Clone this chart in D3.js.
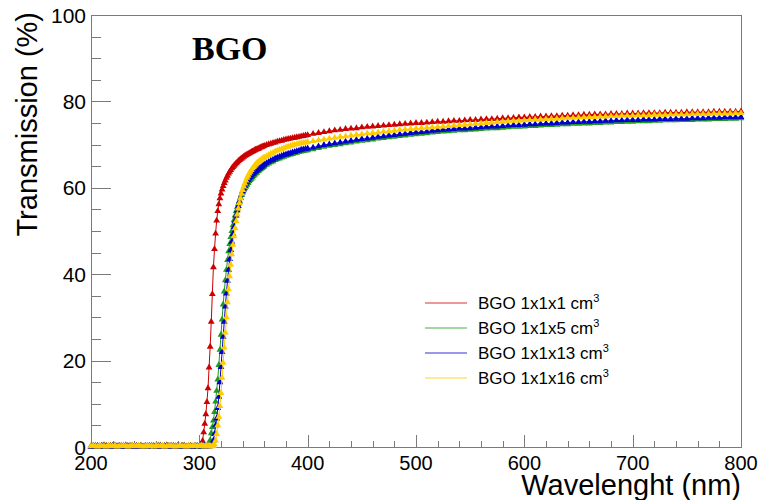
<!DOCTYPE html>
<html>
<head>
<meta charset="utf-8">
<script src="https://cdn.jsdelivr.net/npm/d3@7"></script>
<style>
  html, body { margin: 0; padding: 0; background: #fff; }
  svg { display: block; }
  svg text { font-family: "Liberation Sans", Arial, Helvetica, sans-serif; }
</style>
</head>
<body>
<svg id="chart" width="763" height="500"></svg>
<script>
// Wavelength sampling grid (nm): 2 nm below the edge, 1 nm through the absorption edge, coarser on the plateau
const wavelengths = [].concat(
  d3.range(200, 301, 2),
  d3.range(301, 361, 1),
  d3.range(362, 401, 2),
  d3.range(405, 801, 5)
);

const seriesNames = ["BGO 1x1x1", "BGO 1x1x5", "BGO 1x1x13", "BGO 1x1x16"];
const seriesColors = ["#cc0000", "#1f9a1f", "#0000cc", "#ffcc00"];

// Transmission (%) for each crystal length
const trans1x1x1 = [
  0.1,0.2,0.1,0.3,0.1,0.2,0.4,0.1,0.2,0.3,
  0.1,0.2,0.1,0.3,0.2,0.1,0.4,0.2,0.1,0.3,
  0.2,0.1,0.2,0.3,0.1,0.2,0.1,0.3,0.2,0.2,
  0.1,0.3,0.2,0.1,0.2,0.4,0.1,0.2,0.3,0.1,
  0.2,0.1,0.3,0.2,0.1,0.2,0.3,0.1,0.2,0.1,
  0.2,
  0.3,0.6,1.4,3.4,5.4,7.6,10.4,13.6,18.4,23.2,
  29.0,35.4,41.6,45.8,49.4,52.4,54.6,56.2,57.6,58.7,
  59.6,60.4,61.1,61.7,62.3,62.8,63.3,63.7,64.1,64.5,
  64.8,65.1,65.4,65.7,65.9,66.2,66.4,66.6,66.8,67.0,
  67.2,67.4,67.5,67.7,67.8,68.0,68.1,68.3,68.4,68.5,
  68.7,68.8,68.9,69.0,69.1,69.3,69.4,69.5,69.6,69.7,
  69.9,70.1,70.2,70.4,70.5,70.7,70.8,70.9,71.1,71.2,71.3,71.4,71.5,71.6,71.7,71.8,71.9,72.0,72.1,72.2,
  72.5,72.7,72.9,73.1,73.3,73.4,73.6,73.7,73.8,74.0,74.1,74.2,74.3,74.4,74.5,74.6,74.7,74.8,74.9,75.0,75.0,75.1,75.2,75.3,75.3,75.4,
  75.5,75.5,75.6,75.7,75.7,75.8,75.9,75.9,76.0,76.1,76.1,76.2,76.3,76.3,76.4,76.4,76.5,76.5,76.6,76.6,76.7,76.7,76.8,76.8,76.9,76.9,77.0,77.0,
  77.0,77.1,77.1,77.1,77.2,77.2,77.2,77.3,77.3,77.3,77.3,77.4,77.4,77.4,77.4,77.5,77.5,77.5,77.5,77.5,77.6,77.6,77.6,77.6,77.6,77.7
];
const trans1x1x5 = [
  0.2,0.1,0.3,0.2,0.1,0.2,0.1,0.3,0.2,0.1,
  0.2,0.4,0.1,0.2,0.3,0.1,0.2,0.1,0.3,0.2,
  0.1,0.2,0.2,0.3,0.1,0.2,0.1,0.2,0.3,0.1,
  0.2,0.1,0.3,0.2,0.2,0.1,0.3,0.2,0.1,0.2,
  0.3,0.1,0.2,0.2,0.1,0.3,0.2,0.1,0.2,0.3,
  0.1,
  0.2,0.1,0.2,0.3,0.2,0.1,0.2,0.3,
  0.6,1.6,3.2,4.6,6.1,8.1,10.5,13.0,15.6,19.0,22.5,26.0,
  29.5,33.0,36.0,38.6,41.0,43.3,45.3,47.0,48.6,50.0,
  51.3,52.5,53.6,54.6,55.5,56.3,57.0,57.7,58.3,58.9,
  59.4,59.9,60.3,60.7,61.1,61.5,61.8,62.1,62.4,62.7,
  63.0,63.3,63.5,63.8,64.0,64.2,64.4,64.6,64.8,65.0,
  65.3,65.6,65.9,66.1,66.4,66.6,66.8,67.0,67.2,67.4,67.5,67.7,67.8,68.0,68.1,68.3,68.4,68.5,68.6,68.7,
  68.9,69.2,69.5,69.7,69.9,70.1,70.3,70.5,70.7,70.9,71.0,71.2,71.4,71.5,71.7,71.8,72.0,72.1,72.3,72.4,72.5,72.6,72.8,72.9,73.0,73.1,
  73.2,73.3,73.3,73.4,73.5,73.6,73.7,73.8,73.8,73.9,74.0,74.1,74.1,74.2,74.3,74.3,74.4,74.5,74.5,74.6,74.7,74.7,74.8,74.8,74.9,74.9,75.0,75.0,
  75.1,75.1,75.2,75.2,75.3,75.3,75.4,75.4,75.4,75.5,75.5,75.6,75.6,75.6,75.7,75.7,75.7,75.8,75.8,75.8,75.9,75.9,75.9,76.0,76.0,76.1
];
const trans1x1x13 = [
  0.1,0.3,0.2,0.1,0.2,0.3,0.1,0.2,0.1,0.2,
  0.3,0.1,0.2,0.2,0.1,0.3,0.1,0.2,0.2,0.1,
  0.2,0.3,0.1,0.2,0.1,0.2,0.3,0.2,0.1,0.2,
  0.1,0.2,0.3,0.1,0.2,0.2,0.1,0.3,0.2,0.1,
  0.2,0.1,0.2,0.3,0.1,0.2,0.2,0.1,0.3,0.2,
  0.2,
  0.2,0.1,0.2,0.2,0.3,0.1,0.2,0.2,0.1,0.3,0.2,
  0.6,1.5,3.0,5.0,6.6,9.0,11.6,15.0,18.5,
  22.0,25.5,29.0,32.5,35.5,38.5,41.0,43.5,45.6,47.5,
  49.3,50.9,52.3,53.6,54.8,55.8,56.8,57.7,58.5,59.2,
  59.8,60.4,60.9,61.4,61.8,62.2,62.5,62.8,63.1,63.3,
  63.6,63.8,64.0,64.2,64.4,64.6,64.8,65.0,65.2,65.4,
  65.7,66.0,66.3,66.5,66.8,67.0,67.2,67.4,67.6,67.7,67.9,68.0,68.2,68.3,68.5,68.6,68.8,68.9,69.0,69.1,
  69.3,69.6,69.9,70.1,70.3,70.5,70.7,70.9,71.1,71.3,71.4,71.6,71.8,71.9,72.1,72.2,72.4,72.5,72.7,72.8,72.9,73.0,73.2,73.3,73.4,73.5,
  73.6,73.7,73.7,73.8,73.9,74.0,74.1,74.2,74.2,74.3,74.4,74.5,74.5,74.6,74.7,74.7,74.8,74.9,74.9,75.0,75.1,75.1,75.2,75.2,75.3,75.3,75.4,75.4,
  75.5,75.5,75.6,75.6,75.7,75.7,75.7,75.8,75.8,75.8,75.9,75.9,75.9,76.0,76.0,76.0,76.1,76.1,76.1,76.2,76.2,76.2,76.3,76.3,76.3,76.4
];
const trans1x1x16 = [
  0.2,0.3,0.2,0.1,0.3,0.2,0.2,0.1,0.3,0.2,
  0.2,0.3,0.1,0.2,0.2,0.3,0.2,0.1,0.2,0.3,
  0.2,0.2,0.3,0.2,0.1,0.2,0.3,0.2,0.2,0.1,
  0.3,0.2,0.2,0.3,0.1,0.2,0.2,0.3,0.2,0.1,
  0.2,0.3,0.2,0.2,0.1,0.3,0.2,0.2,0.3,0.2,
  0.2,
  0.2,0.3,0.2,0.2,0.1,0.3,0.2,0.2,0.3,0.2,0.1,0.2,0.3,
  0.6,1.5,3.0,5.0,7.0,9.5,12.5,
  16.0,19.5,23.0,26.5,30.0,33.5,36.5,39.5,42.2,44.6,
  46.8,48.8,50.6,52.3,53.8,55.2,56.5,57.6,58.6,59.5,
  60.3,61.0,61.7,62.3,62.8,63.3,63.7,64.1,64.5,64.8,
  65.1,65.4,65.7,65.9,66.1,66.3,66.5,66.7,66.9,67.0,
  67.3,67.6,67.9,68.1,68.4,68.6,68.8,69.0,69.2,69.4,69.5,69.7,69.8,70.0,70.1,70.2,70.3,70.4,70.5,70.6,
  70.8,71.0,71.2,71.4,71.6,71.8,71.9,72.1,72.3,72.4,72.6,72.7,72.8,73.0,73.1,73.2,73.4,73.5,73.6,73.7,73.8,73.9,74.0,74.1,74.2,74.3,
  74.4,74.5,74.6,74.7,74.8,74.9,75.0,75.1,75.2,75.3,75.4,75.5,75.5,75.6,75.7,75.8,75.8,75.9,76.0,76.0,76.1,76.2,76.2,76.3,76.3,76.4,76.4,76.5,
  76.5,76.6,76.6,76.7,76.7,76.7,76.8,76.8,76.8,76.9,76.9,76.9,77.0,77.0,77.0,77.0,77.1,77.1,77.1,77.1,77.2,77.2,77.2,77.2,77.3,77.3
];
const seriesValues = [trans1x1x1, trans1x1x5, trans1x1x13, trans1x1x16];

const xTicks = [200, 300, 400, 500, 600, 700, 800];
const yTicks = [0, 20, 40, 60, 80, 100];

// ---- layout ----
const svg = d3.select("#chart");
const frame = { left: 91, right: 741, top: 15, bottom: 447 };
const axisColor = "#7a7a7a";

const x = d3.scaleLinear().domain([200, 800]).range([frame.left, frame.right]);
const y = d3.scaleLinear().domain([0, 100]).range([frame.bottom, frame.top]);

// frame box
svg.append("rect")
  .attr("x", frame.left).attr("y", frame.top)
  .attr("width", frame.right - frame.left).attr("height", frame.bottom - frame.top)
  .attr("fill", "none").attr("stroke", axisColor).attr("stroke-width", 1)
  .attr("shape-rendering", "crispEdges");

// x axis: major ticks every 100 nm, minor every 20 nm, drawn inward
const xAxis = d3.axisTop(x).tickValues(xTicks).tickSize(12).tickFormat("");
const xAxisMinor = d3.axisTop(x).tickValues(d3.range(200, 801, 20).filter(v => v % 100 !== 0)).tickSize(6).tickFormat("");
[xAxis, xAxisMinor].forEach(ax => {
  const g = svg.append("g").attr("transform", `translate(0,${frame.bottom})`).call(ax);
  g.select(".domain").remove();
  g.selectAll("line").attr("stroke", axisColor).attr("shape-rendering", "crispEdges");
});
svg.append("g").selectAll("text").data(xTicks).join("text")
  .attr("x", d => x(d)).attr("y", 470)
  .attr("text-anchor", "middle").attr("font-size", 20).attr("fill", "#000")
  .text(d => d);

// y axis: major every 20 %, minor every 5 %
const yAxis = d3.axisRight(y).tickValues(yTicks).tickSize(20).tickFormat("");
const yAxisMinor = d3.axisRight(y).tickValues(d3.range(0, 101, 5).filter(v => v % 20 !== 0)).tickSize(10).tickFormat("");
[yAxis, yAxisMinor].forEach(ax => {
  const g = svg.append("g").attr("transform", `translate(${frame.left},0)`).call(ax);
  g.select(".domain").remove();
  g.selectAll("line").attr("stroke", axisColor).attr("shape-rendering", "crispEdges");
});
svg.append("g").selectAll("text").data(yTicks).join("text")
  .attr("x", 86).attr("y", d => y(d)).attr("dy", "0.36em")
  .attr("text-anchor", "end").attr("font-size", 21).attr("fill", "#000")
  .text(d => d);

// axis titles
svg.append("text")
  .attr("x", frame.right).attr("y", 495)
  .attr("text-anchor", "end").attr("font-size", 29).attr("fill", "#000")
  .text("Wavelenght (nm)");
svg.append("text")
  .attr("transform", `translate(37,${frame.top - 3}) rotate(-90)`)
  .attr("text-anchor", "end").attr("font-size", 29).attr("fill", "#000")
  .text("Transmission (%)");

// panel label
svg.append("text")
  .attr("x", 192).attr("y", 60)
  .style("font-family", "'Liberation Serif', 'DejaVu Serif', serif")
  .style("font-weight", "bold").style("font-size", "34px").attr("fill", "#000")
  .text("BGO");

// ---- series: thin connecting line plus filled triangle markers ----
const line = d3.line().x(d => x(d[0])).y(d => y(d[1]));
const tri = d3.symbol().type(d3.symbolTriangle).size(20);

seriesValues.forEach((vals, i) => {
  const pts = wavelengths.map((w, k) => [w, vals[k]]);
  const g = svg.append("g");
  g.append("path").datum(pts)
    .attr("d", line).attr("fill", "none")
    .attr("stroke", seriesColors[i]).attr("stroke-width", 1);
  g.selectAll("path.m").data(pts).join("path")
    .attr("class", "m")
    .attr("transform", d => `translate(${x(d[0])},${y(d[1])})`)
    .attr("d", tri)
    .attr("fill", seriesColors[i]);
});

// ---- legend ----
const legend = svg.append("g");
const rowY = [303, 328, 353, 378];
seriesNames.forEach((name, i) => {
  legend.append("line")
    .attr("x1", 425).attr("x2", 467).attr("y1", rowY[i]).attr("y2", rowY[i])
    .attr("stroke", seriesColors[i]).attr("stroke-width", 1).attr("opacity", 0.8);
  const t = legend.append("text")
    .attr("x", 478).attr("y", rowY[i]).attr("dy", "0.36em")
    .attr("font-size", 17).attr("fill", "#000");
  t.append("tspan").text(name + " cm");
  t.append("tspan").attr("dy", -7).attr("font-size", 11).text("3");
});
</script>
</body>
</html>
